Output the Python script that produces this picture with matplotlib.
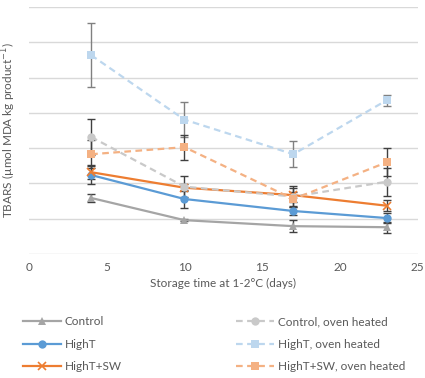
import matplotlib.pyplot as plt

plt.rcParams['font.family'] = ['Lato', 'DejaVu Sans']

# storage days
days = [4, 10, 17, 23]

# TBARS values (axis has no y tick labels, units = gridline steps)
control = [1.59, 0.96, 0.79, 0.76]
control_err = [0.12, 0.03, 0.17, 0.15]
hight = [2.24, 1.56, 1.22, 1.02]
hight_err = [0.25, 0.25, 0.12, 0.15]
hightsw = [2.32, 1.88, 1.67, 1.37]
hightsw_err = [0.2, 0.1, 0.2, 0.15]
control_oven = [3.32, 1.91, 1.63, 2.05]
control_oven_err = [0.5, 0.3, 0.3, 0.4]
hight_oven = [5.64, 3.81, 2.83, 4.36]
hight_oven_err = [0.9, 0.5, 0.37, 0.15]
hightsw_oven = [2.83, 3.03, 1.56, 2.6]
hightsw_oven_err = [0.4, 0.35, 0.2, 0.4]

fig = plt.figure(figsize=(4.25, 3.78), dpi=100)
ax = fig.add_axes([0.068, 0.328, 0.915, 0.653])

# legend order: solid series in left column, oven heated in right
series = [
    ("Control", control, control_err, '#A5A5A5', '-', '^', '#404040'),
    ("HighT", hight, hight_err, '#5B9BD5', '-', 'o', '#404040'),
    ("HighT+SW", hightsw, hightsw_err, '#ED7D31', '-', 'x', '#404040'),
    ("Control, oven heated", control_oven, control_oven_err, '#C9C9C9', '--', 'o', '#404040'),
    ("HighT, oven heated", hight_oven, hight_oven_err, '#BDD7EE', '--', 's', '#808080'),
    ("HighT+SW, oven heated", hightsw_oven, hightsw_oven_err, '#F4B183', '--', 's', '#404040'),
]

for name, vals, err, col, ls, mk, ecol in series:
    ax.errorbar(days, vals, yerr=err, fmt='none', ecolor=ecol, elinewidth=1.0, capsize=3, capthick=1.0, zorder=2)
    ax.plot(days, vals, color=col, linestyle=ls, linewidth=1.6, marker=mk,
            markersize=6, markeredgewidth=1.2 if mk == 'x' else 0,
            label=name, zorder=3, dashes=(3, 2) if ls == '--' else (None, None))

ax.set_xlim(0, 25)
ax.set_ylim(0, 7)
ax.set_xticks([0, 5, 10, 15, 20, 25])
ax.set_yticks(range(0, 8))
ax.set_yticklabels([])
ax.grid(axis='y', color='#D9D9D9', linewidth=1)
ax.set_axisbelow(True)
for s in ax.spines.values():
    s.set_visible(False)
ax.tick_params(length=0, labelsize=8.5, labelcolor='#595959', pad=6)
ax.set_xlabel("Storage time at 1-2°C (days)", fontsize=8.5, color='#595959', labelpad=3)
ax.set_ylabel("TBARS (µmol MDA kg product$^{-1}$)", fontsize=8.5, color='#595959')
ax.yaxis.set_label_coords(-0.028, 0.5)

handles, labels = ax.get_legend_handles_labels()
fig.legend(handles, labels, loc='lower left', bbox_to_anchor=(0.03, -0.012), ncol=2,
           frameon=False, fontsize=8.5, labelcolor='#595959', handlelength=3.2,
           columnspacing=9.7, labelspacing=0.95, handletextpad=0.3)

plt.savefig('out.png', dpi=100)
